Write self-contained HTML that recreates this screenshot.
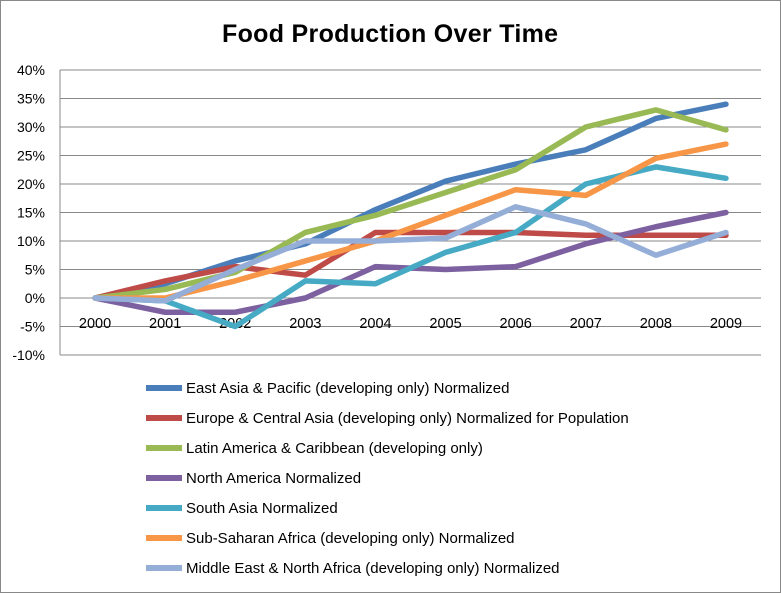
<!DOCTYPE html>
<html><head><meta charset="utf-8"><style>
body{margin:0;background:#fff;}
svg{display:block;font-family:"Liberation Sans",sans-serif;}
</style></head><body>
<svg id="chart" width="781" height="593" viewBox="0 0 781 593">
<rect x="0.5" y="0.5" width="780" height="592" fill="#fff" stroke="#888"/>
<text x="390" y="42" text-anchor="middle" font-size="25" font-weight="bold" fill="#000" textLength="336">Food Production Over Time</text>
<g id="grid"></g><g id="series"></g><g id="legend"></g>
</svg>
<script>
const years=["2000","2001","2002","2003","2004","2005","2006","2007","2008","2009"];
const yTicks=[-10,-5,0,5,10,15,20,25,30,35,40];
const seriesNames=["East Asia & Pacific (developing only) Normalized","Europe & Central Asia (developing only) Normalized for Population","Latin America & Caribbean (developing only)","North America Normalized","South Asia Normalized","Sub-Saharan Africa (developing only) Normalized","Middle East & North Africa (developing only) Normalized"];
const seriesColors=["#4a7ebb","#be4b48","#98b954","#7d60a0","#46aac4","#f79646","#94aed8"];
const eastAsia=[0,2.5,6.5,9.5,15.5,20.5,23.5,26,31.5,34];
const europe=[0,3,5.5,4,11.5,11.5,11.5,11,11,11];
const latinAmerica=[0,1.5,4.5,11.5,14.5,18.5,22.5,30,33,29.5];
const northAmerica=[0,-2.5,-2.5,0,5.5,5,5.5,9.5,12.5,15];
const southAsia=[0,-0.5,-5,3,2.5,8,11.5,20,23,21];
const subSaharan=[0,0,3,6.5,10,14.5,19,18,24.5,27];
const mena=[0,-0.5,5,10,10,10.5,16,13,7.5,11.5];
const allSeries=[eastAsia,europe,latinAmerica,northAmerica,southAsia,subSaharan,mena];
const NS="http://www.w3.org/2000/svg";
const L=60,R=761,T=70,B=355;
const y=v=>B-(v+10)/50*(B-T);
const x=i=>L+(i+0.5)*(R-L)/years.length;
function mk(tag,attrs,parent){const e=document.createElementNS(NS,tag);for(const k in attrs)e.setAttribute(k,attrs[k]);parent.appendChild(e);return e;}
const grid=document.getElementById('grid');
yTicks.forEach(t=>{
 const ln=mk('line',{x1:L,x2:R,y1:y(t),y2:y(t),stroke:'#888','stroke-width':1},grid);
 
 
 const tx=mk('text',{x:L-15,y:y(t)+5,'text-anchor':'end','font-size':14},grid);
 tx.textContent=t+'%';
 
 
});
const ax=mk('line',{x1:L,x2:L,y1:T,y2:B,stroke:'#888'},grid);


years.forEach((yr,i)=>{
 const tx=mk('text',{x:x(i),y:y(0)+30,'text-anchor':'middle','font-size':14.5},grid);
 tx.textContent=yr;
 
 
});
const sg=document.getElementById('series');
allSeries.forEach((d,s)=>{
 const p=mk('polyline',{points:d.map((v,i)=>x(i)+','+y(v)).join(' '),fill:'none',stroke:seriesColors[s],'stroke-width':5.5,'stroke-linejoin':'round','stroke-linecap':'round'},sg);
 
 
});
const lg=document.getElementById('legend');
seriesNames.forEach((n,s)=>{
 const yy=388+s*30;
 const g=mk('g',{},lg);
 
 
 mk('line',{x1:146,x2:182,y1:yy,y2:yy,stroke:seriesColors[s],'stroke-width':6},g);
 const t=mk('text',{x:186,y:yy+5,'font-size':15},g);
 t.textContent=n;
});
</script>
</body></html>
